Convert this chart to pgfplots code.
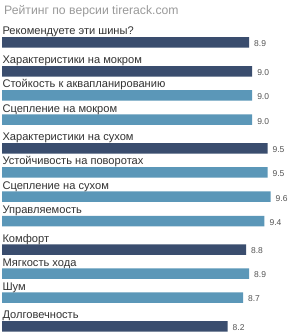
\documentclass[border=0pt]{standalone}
\usepackage{fontspec}
\setmainfont{Liberation Sans}
\usepackage{pgfplots}
\pgfplotsset{compat=1.18}
\definecolor{darkbar}{HTML}{3A4D6E}
\definecolor{lightbar}{HTML}{5B97B8}
\definecolor{lab}{HTML}{333333}
\definecolor{val}{HTML}{555555}
\definecolor{ttl}{HTML}{9A9A9A}
\begin{document}
\begin{tikzpicture}[x=1pt,y=1pt]
\path[use as bounding box, fill=white] (0,0) rectangle (288,336);
\node[anchor=base west, inner sep=0pt, font=\fontsize{12.2}{14}\selectfont, text=ttl] at (4,321) {Рейтинг по версии tirerack.com};
\begin{axis}[
  at={(2pt,0pt)}, anchor=south west,
  scale only axis, width=286pt, height=336pt,
  xmin=0.85, xmax=10.166, ymin=0, ymax=336, y dir=reverse,
  axis lines=none, xbar, bar width=10.5pt, bar shift=0pt,
  clip mode=individual,
  nodes near coords,
  every node near coord/.append style={font=\fontsize{8.5}{10}\selectfont, text=val, xshift=1.5pt, yshift=-1.5pt},
  /pgf/number format/.cd, fixed, fixed zerofill, precision=1, assume math mode=true,
]
\addplot[draw=none, fill=darkbar] coordinates {
  (8.9,42.5) (9.0,71.3) (9.5,148.3) (8.8,249.5) (8.2,326.3)
};
\addplot[draw=none, fill=lightbar] coordinates {
  (9.0,95.3) (9.0,119.7) (9.5,172.3) (9.6,196.7) (9.4,221) (8.9,273.5) (8.7,297.5)
};
\begin{scope}[every node/.style={anchor=base west, inner sep=0pt, font=\fontsize{11.1}{13}\selectfont, text=lab}]
\node at (axis cs:0.86,35) {Рекомендуете эти шины?};
\node at (axis cs:0.86,63.8) {Характеристики на мокром};
\node at (axis cs:0.86,87.8) {Стойкость к аквапланированию};
\node at (axis cs:0.86,112.2) {Сцепление на мокром};
\node at (axis cs:0.86,140.8) {Характеристики на сухом};
\node at (axis cs:0.86,164.8) {Устойчивость на поворотах};
\node at (axis cs:0.86,189.2) {Сцепление на сухом};
\node at (axis cs:0.86,213.5) {Управляемость};
\node at (axis cs:0.86,242) {Комфорт};
\node at (axis cs:0.86,266) {Мягкость хода};
\node at (axis cs:0.86,290) {Шум};
\node at (axis cs:0.86,318.8) {Долговечность};
\end{scope}
\end{axis}
\end{tikzpicture}
\end{document}
